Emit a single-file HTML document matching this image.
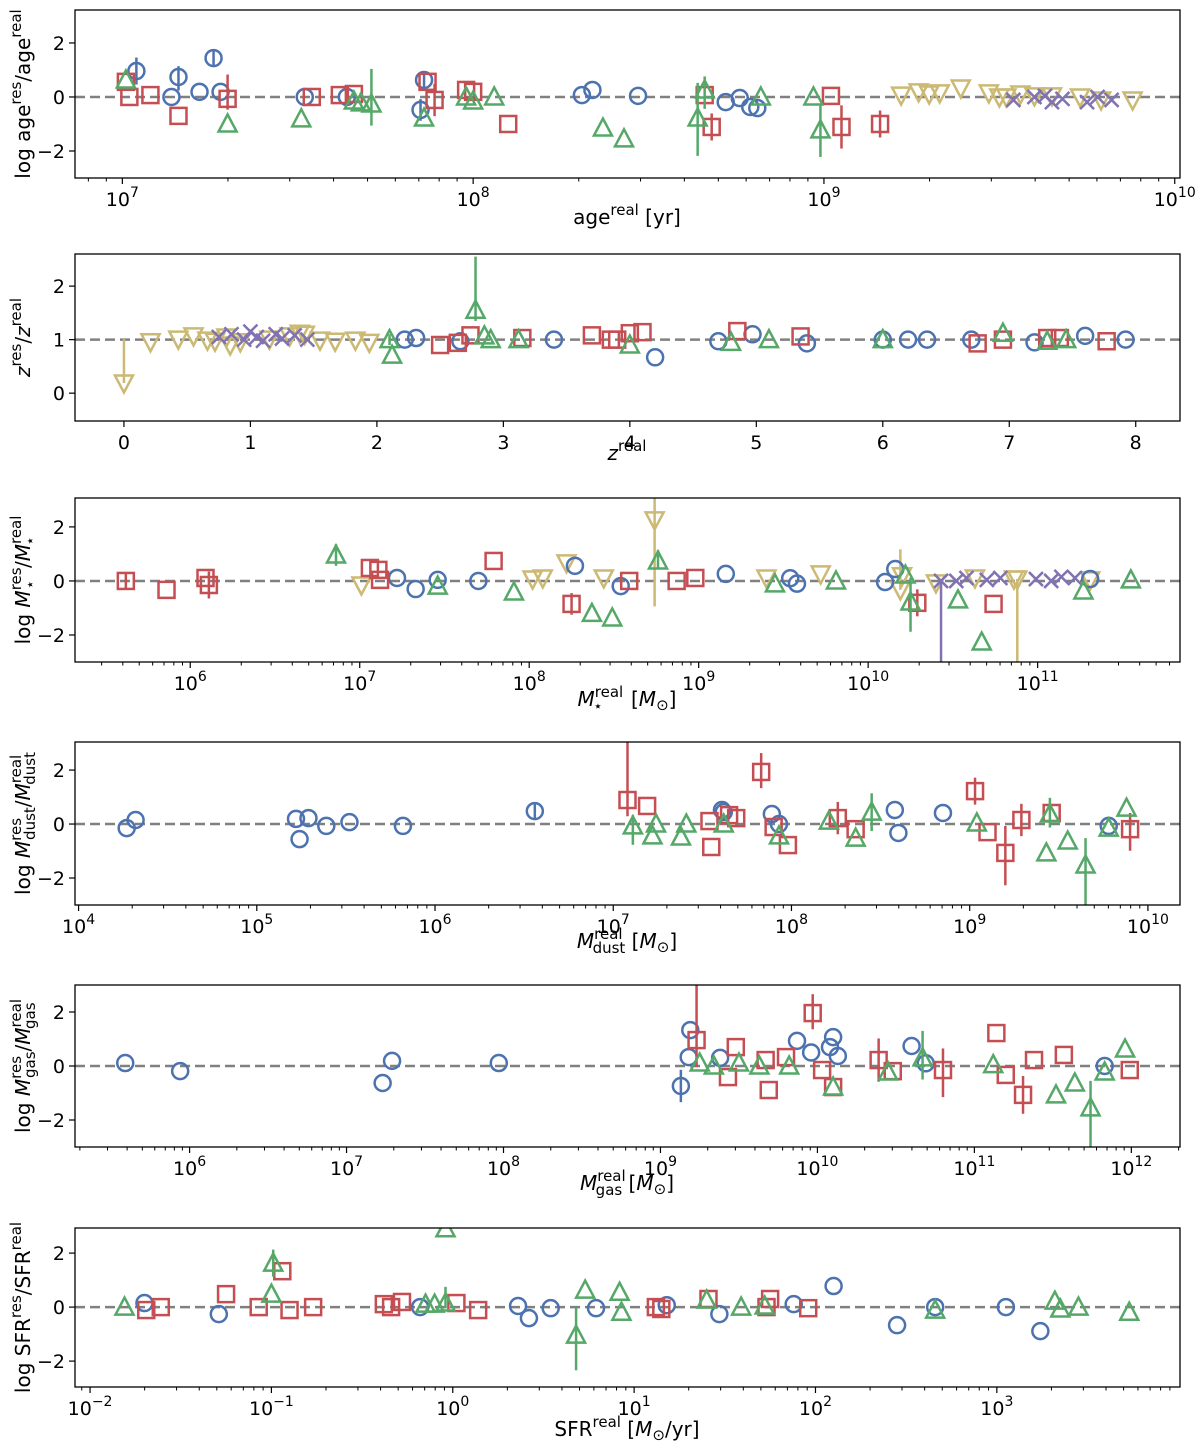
<!DOCTYPE html>
<html><head><meta charset="utf-8"><style>
body{margin:0;background:#fff}
svg text{font-family:"DejaVu Sans","Liberation Sans",sans-serif;fill:#000}
</style></head><body>
<svg id="fig" width="1200" height="1447" viewBox="0 0 1200 1447" xmlns="http://www.w3.org/2000/svg"></svg>
<script>
// ---- data (log10 of x for log panels; [x, y, errLo, errHi]) ----
const ageBlue=[[7.04,.96,.5,.5],[7.16,.74,.5,.4],[7.14,0],[7.22,.19],[7.26,1.44,.3,.3],[7.28,.19],[7.52,0],[7.64,0],[7.85,-.48,.4,.4],[7.86,.63,.3,.3],[8.31,.07],[8.34,.26],[8.47,.04],[8.72,-.19],[8.76,-.04],[8.79,-.37],[8.81,-.41]];
const ageRed=[[7.01,.56],[7.02,0],[7.08,.07],[7.16,-.7],[7.3,-.07,.4,.9],[7.54,0],[7.62,.07],[7.66,.11],[7.87,.56],[7.89,-.11,.6,.6],[7.98,.26],[8.0,.19],[8.1,-1.0],[8.66,.07],[8.68,-1.11,.5,.5],[9.02,.04],[9.05,-1.11,.8,.8],[9.16,-1.0,.5,.5]];
const ageGreen=[[7.01,.63],[7.3,-1.0],[7.51,-.81],[7.66,-.15],[7.68,-.22],[7.71,-.26,.8,1.3],[7.86,-.78],[7.98,0],[8.0,-.15],[8.06,0],[8.37,-1.15],[8.43,-1.55],[8.66,.26,.7,.5],[8.64,-.78,1.4,1.3],[8.82,0],[8.97,0],[8.99,-1.22,1.0,.9]];
const ageYellow=[[9.22,.07],[9.27,.19],[9.33,.15],[9.39,.33],[9.47,.15],[9.52,0],[9.56,.11],[9.65,.04],[9.73,0],[9.79,-.11],[9.88,-.11],[9.5,0],[9.3,.11],[9.6,.04]];
const agePurple=[[9.54,-.11],[9.6,0],[9.65,-.19],[9.68,-.07],[9.75,-.19],[9.78,0],[9.82,-.11],[9.63,.04]];

const zBlue=[[2.22,1.0],[2.31,1.03],[2.66,.97],[3.4,1.0],[4.2,.67],[4.7,.97],[4.97,1.1],[5.4,.93],[6.2,1.0],[6.35,1.0],[6.7,1.0],[7.2,.95],[7.6,1.07],[7.92,1.0],[6.0,1.0]];
const zRed=[[2.5,.9],[2.64,.94],[2.74,1.08],[3.15,1.03],[3.7,1.08],[3.9,1.0],[4.0,1.12],[4.1,1.14],[4.85,1.16],[5.35,1.06],[6.95,1.0],[7.3,1.03],[7.4,1.03],[7.77,.97],[3.85,1.0],[6.75,.93]];
const zGreen=[[2.1,1.0,.1,.1],[2.12,.71],[2.78,1.55,.2,1.0],[2.85,1.07],[2.9,1.0],[3.12,1.0],[4.0,.9],[4.8,.95],[5.1,1.0],[6.0,1.0],[6.95,1.12],[7.45,1.0],[7.3,.97]];
const zYellow=[[0.0,.19,0,.82],[.21,.96],[.43,1.01],[.55,1.07],[.66,.99],[.81,1.05],[.92,.96],[1.15,1.01],[1.31,1.07],[1.43,1.1],[1.55,.99],[1.67,.97],[1.83,.99],[1.94,.95],[1.39,1.12],[.84,.9],[.72,.97]];
const zPurple=[[.75,1.05],[.85,1.1],[.95,1.0],[1.0,1.15],[1.05,1.05],[1.1,.98],[1.2,1.1],[1.25,1.02],[1.35,1.08],[1.45,1.0]];

const msRed=[[5.62,0,.3,.3],[5.86,-.33],[6.09,.11],[6.11,-.15,.5,.5],[7.06,.48],[7.11,.41],[7.12,.04],[7.79,.74],[8.25,-.85,.4,.4],[8.59,0],[8.87,0],[8.98,.11],[10.29,-.81,.5,.5],[10.74,-.85]];
const msBlue=[[7.22,.11],[7.33,-.3],[7.46,.04],[7.7,0],[8.27,.56],[8.54,-.19],[9.16,.26],[9.54,.1],[9.58,-.1],[10.1,-.04],[10.16,.44],[11.31,.07]];
const msGreen=[[6.86,.96,.4,.4],[7.46,-.19],[7.91,-.41],[8.37,-1.2],[8.49,-1.37],[8.76,.74,.3,.4],[9.45,-.11],[9.81,0],[10.22,.22],[10.53,-.7],[10.67,-2.26],[11.27,-.37],[11.55,.04],[10.25,-.78,1.1,.9]];
const msYellow=[[7.01,-.15],[8.02,.07],[8.08,.11],[8.22,.67],[8.44,.11],[8.74,2.26,3.2,.9],[9.4,.11],[9.72,.26],[10.2,.19],[10.4,-.07],[10.63,.11],[10.86,.07],[10.88,.07,3.5,0],[11.31,.04],[10.19,-.33,0,1.5]];
const msPurple=[[10.43,0,3.5,0],[10.52,0],[10.58,.11],[10.7,.04],[10.78,.11],[10.99,.07],[11.08,0],[11.22,.11],[11.14,.15]];

const mdBlue=[[4.27,-.15],[4.32,.15],[5.22,.19],[5.24,-.56],[5.29,.22],[5.39,-.07],[5.52,.07],[5.82,-.07],[6.56,.48,.3,.3],[7.61,.52],[7.62,.44],[7.89,.37],[7.93,0],[8.58,.52],[8.6,-.33],[8.85,.41],[9.78,-.07]];
const mdRed=[[7.08,.89,.6,2.2],[7.19,.67],[7.54,.11],[7.55,-.85],[7.65,.33],[7.69,.22],[7.83,1.93,.6,.7],[7.9,-.11],[7.98,-.78],[8.26,.22,.6,.6],[8.36,-.19],[9.03,1.22,.5,.5],[9.1,-.3],[9.2,-1.07,1.2,1.0],[9.29,.15,.6,.6],[9.46,.41],[9.9,-.19,.8,.6]];
const mdGreen=[[7.11,-.07,.7,.4],[7.22,-.44],[7.24,0],[7.38,-.48],[7.41,0],[7.62,0],[7.93,-.44],[8.21,.11],[8.36,-.52],[8.45,.44,.7,.7],[9.04,.04],[9.43,-1.07],[9.55,-.63],[9.65,-1.52,1.5,1.0],[9.78,-.15],[9.88,.59],[9.45,.37,.5,.6]];

const mgBlue=[[5.59,.11],[5.94,-.19],[7.23,-.63],[7.29,.19],[7.97,.11],[9.13,-.74,.6,.6],[9.18,.33],[9.19,1.33],[9.38,.3],[9.87,.93],[9.96,.5],[10.08,.7],[10.1,1.07],[10.13,.37],[10.6,.74],[10.69,.1],[11.83,0]];
const mgRed=[[9.23,.96,1.0,2.1],[9.43,-.41],[9.48,.7],[9.69,-.89],[9.67,.22],[9.8,.33],[9.97,1.96,.6,.7],[10.03,-.15],[10.1,-.78],[10.39,.22,.8,.8],[10.48,-.19],[10.8,-.15,1.0,.8],[11.14,1.22],[11.2,-.33],[11.31,-1.07,.7,.7],[11.38,.22],[11.57,.41],[11.99,-.15]];
const mgGreen=[[9.25,.11],[9.34,0],[9.5,.11],[9.63,0],[9.82,0],[10.1,-.78],[10.45,-.22],[10.67,.3,.8,1.0],[11.12,.05],[11.52,-1.07],[11.64,-.63],[11.74,-1.55,1.5,1.0],[11.83,-.22],[11.96,.63]];

const sfBlue=[[-1.7,.15],[-1.29,-.26],[-.18,0],[.36,.04],[.42,-.41],[.54,-.04],[.79,-.04],[1.18,.07],[1.47,-.26],[1.88,.11],[2.1,.78],[2.45,-.67],[2.66,0],[3.05,0],[3.24,-.89]];
const sfRed=[[-1.69,-.11],[-1.61,0],[-1.25,.48],[-1.07,0],[-.94,1.33],[-.9,-.11],[-.77,0],[-.38,.11],[-.34,0],[-.28,.19],[.02,.15],[.14,-.11],[1.12,0],[1.15,-.07],[1.41,.3],[1.73,0],[1.75,.3],[1.96,-.04]];
const sfGreen=[[-1.81,0],[-.99,1.63,.5,.5],[-1.0,.48],[-.15,.11],[-.1,.11],[-.04,2.9],[-.04,.15,.2,.6],[.68,-1.04,1.3,1.0],[.73,.63],[.92,.55],[.93,-.19],[1.4,.26],[1.59,0],[1.72,.04],[2.66,-.11],[3.32,.22],[3.35,-.07],[3.45,0],[3.73,-.19]];

const C={blue:"#4c72b0",red:"#c44e52",green:"#55a868",yellow:"#ccb974",purple:"#8172b2"};
const panels=[
 {name:"age",top:10,bot:178,log:true,x0:6.865,x1:10.015,y0:-3,y1:3.22,yt:[-2,0,2],ref:0,xt:[7,8,9,10],
  series:[[ageYellow,"yellow","tdown"],[agePurple,"purple","x"],[ageBlue,"blue","o"],[ageRed,"red","s"],[ageGreen,"green","tup"]],
  ylab:'log age<tspan dy="-9" font-size="15">res</tspan><tspan dy="9">/age</tspan><tspan dy="-9" font-size="15">real</tspan>',
  xlab:'age<tspan dy="-9" font-size="15">real</tspan><tspan dy="9"> [yr]</tspan>',xly:224},
 {name:"z",top:254,bot:421,log:false,x0:-0.387,x1:8.35,y0:-0.52,y1:2.6,yt:[0,1,2],ref:1,xt:[0,1,2,3,4,5,6,7,8],
  series:[[zYellow,"yellow","tdown"],[zPurple,"purple","x"],[zBlue,"blue","o"],[zRed,"red","s"],[zGreen,"green","tup"]],
  ylab:'<tspan font-style="italic">z</tspan><tspan dy="-9" font-size="15">res</tspan><tspan dy="9">/</tspan><tspan font-style="italic">z</tspan><tspan dy="-9" font-size="15">real</tspan>',
  xlab:'<tspan font-style="italic">z</tspan><tspan dy="-9" font-size="15">real</tspan>',xly:460},
 {name:"mstar",top:498,bot:662,log:true,x0:5.32,x1:11.84,y0:-3,y1:3.07,yt:[-2,0,2],ref:0,xt:[6,7,8,9,10,11],
  series:[[msYellow,"yellow","tdown"],[msPurple,"purple","x"],[msBlue,"blue","o"],[msRed,"red","s"],[msGreen,"green","tup"]],
  ylab:'log <tspan font-style="italic">M</tspan><tspan dy="-9" font-size="15">res</tspan><tspan dy="14" dx="-22" font-size="15">⋆</tspan><tspan dy="-5" dx="12">/</tspan><tspan font-style="italic">M</tspan><tspan dy="-9" font-size="15">real</tspan><tspan dy="14" dx="-30" font-size="15">⋆</tspan>',
  xlab:'<tspan font-style="italic">M</tspan><tspan dy="-9" font-size="15">real</tspan><tspan dy="14" dx="-30" font-size="15">⋆</tspan><tspan dy="-5" dx="22"> [</tspan><tspan font-style="italic">M</tspan><tspan dy="4" font-size="15">⊙</tspan><tspan dy="-4">]</tspan>',xly:706},
 {name:"mdust",top:742,bot:905,log:true,x0:3.98,x1:10.18,y0:-3,y1:3.04,yt:[-2,0,2],ref:0,xt:[4,5,6,7,8,9,10],
  series:[[mdBlue,"blue","o"],[mdRed,"red","s"],[mdGreen,"green","tup"]],
  ylab:'log <tspan font-style="italic">M</tspan><tspan dy="-9" font-size="15">res</tspan><tspan dy="14" dx="-22" font-size="15">dust</tspan><tspan dy="-5">/</tspan><tspan font-style="italic">M</tspan><tspan dy="-9" font-size="15">real</tspan><tspan dy="14" dx="-30" font-size="15">dust</tspan>',
  xlab:'<tspan font-style="italic">M</tspan><tspan dy="-9" font-size="15">real</tspan><tspan dy="14" dx="-30" font-size="15">dust</tspan><tspan dy="-5"> [</tspan><tspan font-style="italic">M</tspan><tspan dy="4" font-size="15">⊙</tspan><tspan dy="-4">]</tspan>',xly:948},
 {name:"mgas",top:985,bot:1147,log:true,x0:5.27,x1:12.31,y0:-3,y1:3,yt:[-2,0,2],ref:0,xt:[6,7,8,9,10,11,12],
  series:[[mgBlue,"blue","o"],[mgRed,"red","s"],[mgGreen,"green","tup"]],
  ylab:'log <tspan font-style="italic">M</tspan><tspan dy="-9" font-size="15">res</tspan><tspan dy="14" dx="-22" font-size="15">gas</tspan><tspan dy="-5">/</tspan><tspan font-style="italic">M</tspan><tspan dy="-9" font-size="15">real</tspan><tspan dy="14" dx="-30" font-size="15">gas</tspan>',
  xlab:'<tspan font-style="italic">M</tspan><tspan dy="-9" font-size="15">real</tspan><tspan dy="14" dx="-30" font-size="15">gas</tspan><tspan dy="-5"> [</tspan><tspan font-style="italic">M</tspan><tspan dy="4" font-size="15">⊙</tspan><tspan dy="-4">]</tspan>',xly:1190},
 {name:"sfr",top:1228,bot:1387,log:true,x0:-2.083,x1:4.01,y0:-2.96,y1:2.93,yt:[-2,0,2],ref:0,xt:[-2,-1,0,1,2,3],
  series:[[sfBlue,"blue","o"],[sfRed,"red","s"],[sfGreen,"green","tup"]],
  ylab:'log SFR<tspan dy="-9" font-size="15">res</tspan><tspan dy="9">/SFR</tspan><tspan dy="-9" font-size="15">real</tspan>',
  xlab:'SFR<tspan dy="-9" font-size="15">real</tspan><tspan dy="9"> [</tspan><tspan font-style="italic">M</tspan><tspan dy="4" font-size="15">⊙</tspan><tspan dy="-4">/yr]</tspan>',xly:1436}
];
const svg=document.getElementById('fig');
const NS="http://www.w3.org/2000/svg";
const L=75,R=1180;
function mk(tag,attrs,parent){const e=document.createElementNS(NS,tag);for(const k in attrs)e.setAttribute(k,attrs[k]);parent.appendChild(e);return e;}
panels.forEach(p=>{
 const g=mk('g',{},svg);
 
 
 const sx=v=>L+(v-p.x0)/(p.x1-p.x0)*(R-L);
 const sy=v=>p.bot-(v-p.y0)/(p.y1-p.y0)*(p.bot-p.top);
 const clip=mk('clipPath',{id:'c'+p.name},g);mk('rect',{x:L,y:p.top,width:R-L,height:p.bot-p.top},clip);
 const plot=mk('g',{'clip-path':'url(#c'+p.name+')'},g);
 const ref=mk('line',{x1:L,x2:R,y1:sy(p.ref),y2:sy(p.ref),stroke:'#808080','stroke-width':2.5,'stroke-dasharray':'10,5'},plot);
 
 
 p.series.forEach(([data,col,m])=>{
  const sg=mk('g',{fill:'none',stroke:C[col],'stroke-width':2.5},plot);
  
  
  data.forEach(d=>{
   const x=sx(d[0]),y=sy(d[1]);
   if(d[2]||d[3]){mk('line',{x1:x,x2:x,y1:sy(d[1]-(d[2]||0)),y2:sy(d[1]+(d[3]||0))},sg);}
   let e;
   if(m==='o')e=mk('circle',{cx:x,cy:y,r:8},sg);
   else if(m==='s')e=mk('rect',{x:x-8,y:y-8,width:16,height:16},sg);
   else if(m==='tup')e=mk('polygon',{points:`${x},${y-9.5} ${x-9},${y+7.5} ${x+9},${y+7.5}`},sg);
   else if(m==='tdown')e=mk('polygon',{points:`${x},${y+9.5} ${x-9},${y-7.5} ${x+9},${y-7.5}`},sg);
   else e=mk('path',{d:`M${x-7},${y-7}L${x+7},${y+7}M${x-7},${y+7}L${x+7},${y-7}`},sg);
   
   
  });
 });
 const fr=mk('rect',{x:L,y:p.top,width:R-L,height:p.bot-p.top,fill:'none',stroke:'#000','stroke-width':1.3},g);
 
 
 p.yt.forEach(v=>{const y=sy(v);mk('line',{x1:L-6,x2:L,y1:y,y2:y,stroke:'#000','stroke-width':1.2},g);
  const t=mk('text',{x:L-10,y:y+7,'text-anchor':'end','font-size':19},g);t.textContent=(v<0?'\u2212':'')+Math.abs(v);
  });
 const xb=p.bot;
 if(p.log){
  for(let d=Math.floor(p.x0);d<=Math.ceil(p.x1);d++){for(let k=2;k<=9;k++){const v=d+Math.log10(k);if(v>p.x0&&v<p.x1){const x=sx(v);mk('line',{x1:x,x2:x,y1:xb,y2:xb+3.5,stroke:'#000','stroke-width':1},g);}}}
 }
 p.xt.forEach(v=>{const x=sx(v);mk('line',{x1:x,x2:x,y1:xb,y2:xb+6,stroke:'#000','stroke-width':1.2},g);
  const t=mk('text',{x:x,y:xb+28,'text-anchor':'middle','font-size':19},g);
  if(p.log){t.innerHTML='10<tspan dy="-9" font-size="14">'+(v<0?'\u2212':'')+Math.abs(v)+'</tspan>';}else t.textContent=v;
  });
 const xl=mk('text',{x:627,y:p.xly,'text-anchor':'middle','font-size':20},g);xl.innerHTML=p.xlab;
 
 const cy=(p.top+p.bot)/2;
 const yl=mk('text',{x:0,y:0,'text-anchor':'middle','font-size':20,transform:`translate(30,${cy}) rotate(-90)`},g);yl.innerHTML=p.ylab;
 
});
</script>
</body></html>
